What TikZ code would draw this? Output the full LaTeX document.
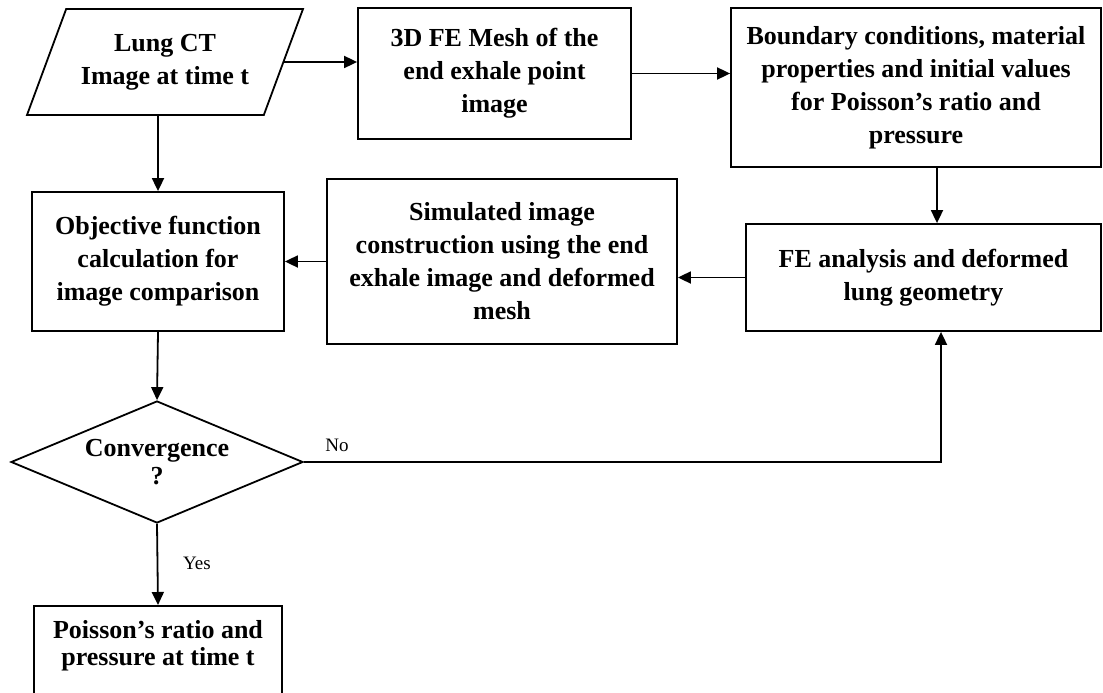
\documentclass[tikz,border=0pt]{standalone}
\usepackage{fontspec}
\setmainfont{Liberation Serif}
\usetikzlibrary{arrows.meta,shapes.geometric}
\tikzset{
  every node/.style={text=black},
  process/.style={draw=black, fill=white, line width=1.8pt, align=center,
    inner sep=0pt, font=\fontsize{26}{33}\selectfont\bfseries},
  io/.style={process, trapezium, trapezium left angle=55,
    trapezium right angle=125, trapezium stretches body},
  decision/.style={process, diamond, aspect=2.4,
    font=\fontsize{26}{28}\selectfont\bfseries},
  flow/.style={-{Triangle[length=13pt,width=12pt]}, draw=black, line width=1.8pt},
  tinylabel/.style={font=\fontsize{19}{22}\selectfont}
}

\begin{document}
\begin{tikzpicture}[x=1pt,y=-1pt]
\clip (0,0) rectangle (1103,693);

% ---------------------------------------------------------------------------
% Top row: input image, mesh and model set-up.
% ---------------------------------------------------------------------------
\node[io, minimum width=276pt, minimum height=106pt] (lungct) at (165,62)
  {Lung CT\\Image at time t};

\node[process, minimum width=273pt, minimum height=131pt] (mesh) at (494.5,73.5)
  {3D FE Mesh of the\\end exhale point\\image};

\node[process, minimum width=370pt, minimum height=159pt] (bcond) at (916,87.5)
  {Boundary conditions, material\\properties and initial values\\for Poisson’s ratio and\\pressure};

\draw[flow] (lungct.east) -- (lungct.east -| mesh.west);
\draw[flow] (mesh) -- (mesh -| bcond.west);

% ---------------------------------------------------------------------------
% Middle row: FE solve, simulated image and comparison.
% ---------------------------------------------------------------------------
\node[process, minimum width=355pt, minimum height=107pt] (fea) at (923.5,277.5)
  {FE analysis and deformed\\lung geometry};

\node[process, minimum width=350pt, minimum height=165pt] (simimg) at (502,261.5)
  {Simulated image\\construction using the end\\exhale image and deformed\\mesh};

\node[process, minimum width=252pt, minimum height=139pt] (objfun) at (158,261.5)
  {Objective function\\calculation for\\image comparison};

\draw[flow] ([xshift=21pt]bcond.south) -- ([xshift=21pt]bcond.south |- fea.north);
\draw[flow] (fea.west) -- (fea.west -| simimg.east);
\draw[flow] (simimg.west) -- (simimg.west -| objfun.east);
\draw[flow] (objfun.north |- lungct.south) -- (objfun.north);

% ---------------------------------------------------------------------------
% Convergence test and output.
% ---------------------------------------------------------------------------
\node[decision, minimum width=292pt, minimum height=122pt] (conv) at (157,462)
  {Convergence\\?};

\node[process, minimum width=248pt, anchor=north, inner ysep=15pt,
  font=\fontsize{26}{27}\selectfont\bfseries, text depth=45pt] (result) at (158,605)
  {Poisson’s ratio and\\pressure at time t};

\draw[flow] (objfun.south) -- (conv.north);
\draw[flow] (conv.east) -| ([xshift=17.5pt]fea.south);
\draw[flow] (conv.south) -- (result.north);

\node[tinylabel] (nolbl) at (337,445) {No};
\node[tinylabel] (yeslbl) at (197,563) {Yes};

\end{tikzpicture}
\end{document}
